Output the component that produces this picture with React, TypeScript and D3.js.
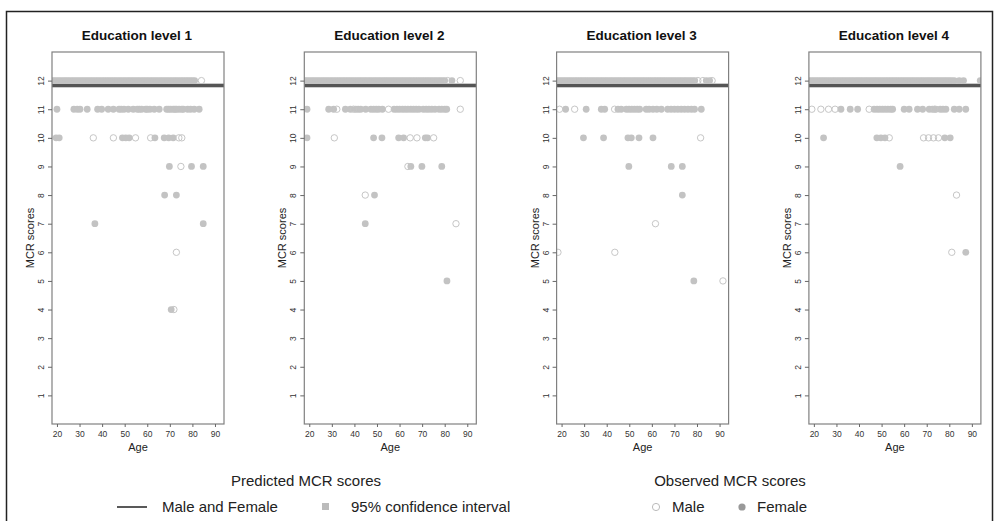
import React, { useRef, useEffect } from 'react';
import * as d3 from 'd3';

// panel titles and axis ticks
const levels = ['Education level 1', 'Education level 2', 'Education level 3', 'Education level 4'];
const ageTicks = [20, 30, 40, 50, 60, 70, 80, 90];
const scoreTicks = [1, 2, 3, 4, 5, 6, 7, 8, 9, 10, 11, 12];

// predicted score (line) and its 95% CI, one per education level
const predicted = [11.83, 11.83, 11.83, 11.83];
const ciLower = [11.76, 11.76, 11.76, 11.76];
const ciUpper = [11.9, 11.9, 11.9, 11.9];

// observed ages by score, per level and sex
const level1Female = {
  12: [18, 19, 20, 21, 22, 23, 24, 25, 26, 27, 28, 29, 30, 31, 32, 33, 34, 35, 36, 37, 38, 39, 40, 41, 42, 43, 44, 45, 46, 47, 48, 49, 50, 51, 52, 53, 54, 55, 56, 57, 58, 59, 60, 61, 62, 63, 64, 65, 66, 67, 68, 69, 70, 71, 72, 73, 74, 75, 76, 77, 78, 79, 80, 81],
  11: [20, 27.5, 29, 30.2, 33.4, 38, 39.8, 42.7, 45, 47.5, 48.5, 49.7, 51.6, 53.8, 55.6, 56.5, 57.5, 59.3, 60, 61.2, 63.1, 65.3, 68.6, 69.5, 70.4, 71.5, 72.3, 73, 74.1, 75.3, 76, 77.9, 79.2, 80.8, 83],
  10: [19.6, 21, 49, 50.5, 52, 63.4, 67.5, 69.5, 71.5],
  9: [69.8, 79.6, 84.8],
  8: [67.7, 72.9],
  7: [36.8, 84.8],
  4: [70.6],
};
const level1Male = {
  12: [84],
  10: [36.1, 45, 54.8, 61.5, 74, 75.3],
  9: [74.9],
  6: [72.9],
  4: [71.8],
};

const level2Female = {
  12: [18, 19, 20, 21, 22, 23, 24, 25, 26, 27, 28, 29, 30, 31, 32, 33, 34, 35, 36, 37, 38, 39, 40, 41, 42, 43, 44, 45, 46, 47, 48, 49, 50, 51, 52, 53, 54, 55, 56, 57, 58, 59, 60, 61, 62, 63, 64, 65, 66, 67, 68, 69, 70, 71, 72, 73, 74, 75, 76, 77, 78, 79, 80, 83.2],
  11: [19, 28.6, 30.8, 36, 38.2, 40.6, 41.7, 42.8, 45, 47.3, 48.5, 49.7, 50.8, 52.4, 57.6, 58.8, 60, 61.3, 62.5, 63.7, 65, 66.2, 67.4, 68.6, 70.5, 71.8, 73, 74.3, 75.7, 77.5, 78.7, 80, 80.9],
  10: [19, 48.5, 52.2, 59.6, 61.8, 71.4, 72.4],
  9: [65, 69.9, 78.7],
  8: [48.9],
  7: [44.8],
  5: [81],
};
const level2Male = {
  12: [81.3, 86.9],
  11: [32.2, 39.6, 55.1, 86.9],
  10: [31.1, 64.7, 67.7, 75.1],
  9: [63.7],
  8: [44.8],
  7: [85],
};

const level3Female = {
  12: [18, 19, 20, 21, 22, 23, 24, 25, 26, 27, 28, 29, 30, 31, 32, 33, 34, 35, 36, 37, 38, 39, 40, 41, 42, 43, 44, 45, 46, 47, 48, 49, 50, 51, 52, 53, 54, 55, 56, 57, 58, 59, 60, 61, 62, 63, 64, 65, 66, 67, 68, 69, 70, 71, 72, 73, 74, 75, 76, 77, 78, 79, 84.1, 85.6],
  11: [21.8, 30.9, 37.6, 39.1, 45, 46.4, 48.7, 49.9, 51.1, 52.3, 53.5, 54.6, 57.5, 58.8, 60.5, 62.2, 64.2, 67, 68.5, 70, 71.5, 73, 74.5, 76, 77.5, 78.9, 81.9],
  10: [29.7, 38.6, 49.4, 50.9, 54.3, 60.5],
  9: [49.8, 68.6, 73.5],
  8: [73.5],
  5: [78.6],
};
const level3Male = {
  12: [80.4, 82.6, 86.7],
  11: [19.1, 25.8, 43.5],
  10: [81.6],
  7: [61.6],
  6: [18.4, 43.6],
  5: [91.5],
};

const level4Female = {
  12: [18, 19, 20, 21, 22, 23, 24, 25, 26, 27, 28, 29, 30, 31, 32, 33, 34, 35, 36, 37, 38, 39, 40, 41, 42, 43, 44, 45, 46, 47, 48, 49, 50, 51, 52, 53, 54, 55, 56, 57, 58, 59, 60, 61, 62, 63, 64, 65, 66, 67, 68, 69, 70, 71, 72, 73, 74, 75, 76, 77, 78, 79, 80, 81, 82.2, 84.4, 86.3, 93.7],
  11: [32, 36.1, 39.4, 46.7, 48, 49.2, 50.4, 51.6, 52.8, 54, 54.9, 60, 62.2, 65.9, 68.2, 71.1, 72.5, 74, 76, 77.2, 78.5, 82.2, 84.4, 87.3],
  10: [24.3, 47.9, 49.7, 51.5, 78, 80.4],
  9: [58.2],
  6: [87.3],
};
const level4Male = {
  11: [19.1, 23.1, 26.5, 29.4, 44.5, 73.5],
  10: [53.4, 68.6, 70.8, 73, 75.2],
  8: [83.2],
  6: [81.1],
};

const femaleByLevel = [level1Female, level2Female, level3Female, level4Female];
const maleByLevel = [level1Male, level2Male, level3Male, level4Male];

const toPoints = (byScore: Record<number, number[]>) =>
  Object.entries(byScore).flatMap(([score, ages]) => ages.map((age) => ({ age, score: +score })));

const App = () => {
  const svgRef = useRef<SVGSVGElement>(null);

  useEffect(() => {
    document.body.style.margin = '0';
    const width = 999;
    const height = 521;
    const font = 'Liberation Sans, Arial, sans-serif';

    const svg = d3.select(svgRef.current).attr('width', width).attr('height', height);
    svg.selectAll('*').remove();

    svg.append('rect').attr('width', width).attr('height', height).attr('fill', '#fff');
    svg.append('rect')
      .attr('x', 6.5).attr('y', 11.5)
      .attr('width', 986).attr('height', 530)
      .attr('fill', 'none').attr('stroke', '#222').attr('stroke-width', 1.5);

    const top = 52;
    const bottom = 424;
    const panelW = 172;
    const panelStep = 252.3;

    const yScale = d3.scaleLinear().domain([0, 13]).range([bottom, top]);

    levels.forEach((title, i) => {
      const left = 52 + i * panelStep;
      const xScale = d3.scaleLinear().domain([17.8, 94.0]).range([left, left + panelW]);
      const g = svg.append('g');

      const clipId = `clip-${i}`;
      g.append('clipPath').attr('id', clipId)
        .append('rect')
        .attr('x', left).attr('y', top)
        .attr('width', panelW).attr('height', bottom - top);

      const plot = g.append('g').attr('clip-path', `url(#${clipId})`);

      // confidence band
      plot.append('rect')
        .attr('x', left).attr('width', panelW)
        .attr('y', yScale(ciUpper[i]))
        .attr('height', yScale(ciLower[i]) - yScale(ciUpper[i]))
        .attr('fill', '#9a9a9a');

      plot.selectAll('.female')
        .data(toPoints(femaleByLevel[i]))
        .enter().append('circle')
        .attr('class', 'female')
        .attr('cx', (d) => xScale(d.age))
        .attr('cy', (d) => yScale(d.score))
        .attr('r', 3.4)
        .attr('fill', '#c3c3c3');

      plot.selectAll('.male')
        .data(toPoints(maleByLevel[i]))
        .enter().append('circle')
        .attr('class', 'male')
        .attr('cx', (d) => xScale(d.age))
        .attr('cy', (d) => yScale(d.score))
        .attr('r', 3.2)
        .attr('fill', 'none')
        .attr('stroke', '#c6c6c6')
        .attr('stroke-width', 1);

      plot.append('line')
        .attr('x1', left).attr('x2', left + panelW)
        .attr('y1', yScale(predicted[i])).attr('y2', yScale(predicted[i]))
        .attr('stroke', '#555').attr('stroke-width', 3);

      // box
      g.append('rect')
        .attr('x', left).attr('y', top)
        .attr('width', panelW).attr('height', bottom - top)
        .attr('fill', 'none').attr('stroke', '#808080').attr('stroke-width', 1.2);

      // y axis
      const yAxis = g.append('g')
        .attr('transform', `translate(${left}, 0)`)
        .call(d3.axisLeft(yScale).tickValues(scoreTicks).tickSize(4).tickSizeOuter(0));
      yAxis.select('.domain').remove();
      yAxis.selectAll('.tick line').attr('stroke', '#666');
      yAxis.selectAll('.tick text')
        .attr('x', null).attr('dy', null)
        .attr('transform', 'translate(-11, 0) rotate(-90)')
        .attr('text-anchor', 'middle')
        .attr('dominant-baseline', 'central')
        .style('font-family', font).style('font-size', '8.5px').attr('fill', '#333');

      // x axis
      const xAxis = g.append('g')
        .attr('transform', `translate(0, ${bottom})`)
        .call(d3.axisBottom(xScale).tickValues(ageTicks).tickSize(3).tickSizeOuter(0));
      xAxis.select('.domain').remove();
      xAxis.selectAll('.tick line').attr('stroke', '#666');
      xAxis.selectAll('.tick text')
        .attr('y', 7)
        .style('font-family', font).style('font-size', '8.5px').attr('fill', '#333');

      g.append('text')
        .attr('x', left + panelW / 2).attr('y', 451)
        .attr('text-anchor', 'middle')
        .style('font-family', font).style('font-size', '11px').attr('fill', '#222')
        .text('Age');

      g.append('text')
        .attr('transform', `translate(${left - 18}, ${(top + bottom) / 2}) rotate(-90)`)
        .attr('text-anchor', 'middle')
        .style('font-family', font).style('font-size', '11px').attr('fill', '#222')
        .text('MCR scores');

      g.append('text')
        .attr('x', left + panelW / 2 - 1).attr('y', 40)
        .attr('text-anchor', 'middle')
        .style('font-family', font).style('font-size', '13.5px').style('font-weight', 'bold')
        .attr('fill', '#111')
        .text(title);
    });

    // legends
    const legend = svg.append('g').style('font-family', font).style('font-size', '15px').attr('fill', '#222');
    legend.append('text').attr('x', 306).attr('y', 486).attr('text-anchor', 'middle').text('Predicted MCR scores');
    legend.append('line')
      .attr('x1', 117).attr('x2', 147).attr('y1', 507).attr('y2', 507)
      .attr('stroke', '#222').attr('stroke-width', 1.5);
    legend.append('text').attr('x', 162).attr('y', 512).text('Male and Female');
    legend.append('rect').attr('x', 322).attr('y', 503).attr('width', 7).attr('height', 7).attr('fill', '#bbb');
    legend.append('text').attr('x', 351).attr('y', 512).text('95% confidence interval');

    legend.append('text').attr('x', 730).attr('y', 486).attr('text-anchor', 'middle').text('Observed MCR scores');
    legend.append('circle').attr('cx', 656).attr('cy', 507).attr('r', 3.6)
      .attr('fill', 'none').attr('stroke', '#bbb').attr('stroke-width', 1);
    legend.append('text').attr('x', 672).attr('y', 512).text('Male');
    legend.append('circle').attr('cx', 742).attr('cy', 507).attr('r', 3.6).attr('fill', '#999');
    legend.append('text').attr('x', 757).attr('y', 512).text('Female');
  }, []);

  return <svg ref={svgRef} style={{ display: 'block' }}></svg>;
};

export default App;
